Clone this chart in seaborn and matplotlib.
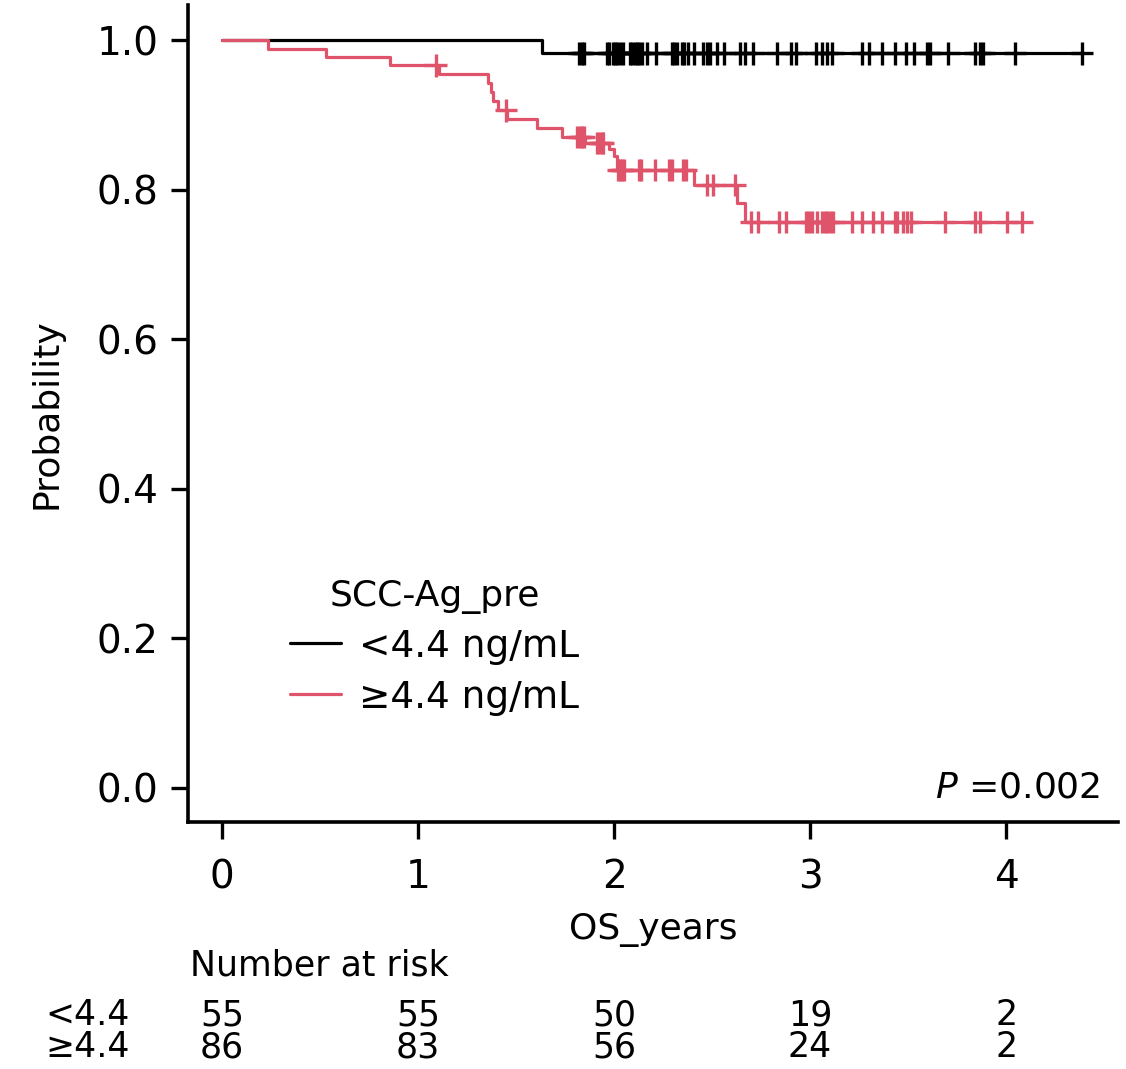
import numpy as np
import pandas as pd
import seaborn as sns
import matplotlib.pyplot as plt

# Kaplan-Meier curves (step times / survival after step)
low_times = [0.0, 1.631]
low_surv = [1.0, 0.982]
low_end = 4.386
low_censor = [1.823, 1.835, 1.847, 1.966, 1.976, 1.993, 2.005, 2.017, 2.031, 2.044,
              2.082, 2.093, 2.107, 2.119, 2.129, 2.141, 2.170, 2.214, 2.294, 2.308,
              2.320, 2.348, 2.359, 2.379, 2.408, 2.456, 2.473, 2.490, 2.524, 2.563,
              2.643, 2.668, 2.711, 2.830, 2.903, 2.927, 3.029, 3.060, 3.085, 3.114,
              3.267, 3.301, 3.366, 3.434, 3.490, 3.532, 3.598, 3.612, 3.706, 3.842,
              3.867, 3.884, 4.046, 4.386]

high_times = [0.0, 0.236, 0.529, 0.857, 1.107, 1.359, 1.371, 1.384, 1.410, 1.456,
              1.609, 1.733, 1.852, 1.976, 2.000, 2.014, 2.408, 2.625, 2.670]
high_surv = [1.0, 0.988, 0.977, 0.966, 0.954, 0.942, 0.930, 0.918, 0.906, 0.894,
             0.882, 0.870, 0.862, 0.854, 0.845, 0.826, 0.806, 0.782, 0.757]
high_end = 4.080
high_censor = [1.090, 1.449, 1.813, 1.827, 1.838, 1.847, 1.915, 1.925, 1.937, 1.945,
               2.022, 2.031, 2.042, 2.052, 2.128, 2.138, 2.209, 2.282, 2.294, 2.354,
               2.367, 2.476, 2.507, 2.615, 2.699, 2.736, 2.843, 2.878, 2.980, 2.995,
               3.009, 3.037, 3.063, 3.077, 3.088, 3.102, 3.119, 3.216, 3.264, 3.320,
               3.366, 3.434, 3.445, 3.476, 3.493, 3.514, 3.689, 3.842, 3.867, 4.003,
               4.080]

groups = ["<4.4 ng/mL", "\u22654.4 ng/mL"]
colors = ["black", "#DF536B"]
risk_labels = ["<4.4", "\u22654.4"]
risk_times = [0, 1, 2, 3, 4]
risk_low = [55, 55, 50, 19, 2]
risk_high = [86, 83, 56, 24, 2]

sns.set_theme(style="ticks")
plt.rcParams["font.family"] = ["DejaVu Sans"]
plt.rcParams.update({"text.color": "black", "axes.labelcolor": "black",
                     "xtick.color": "black", "ytick.color": "black"})
fs = 26


def km_frame(times, surv, end, censor, label):
    t = list(times) + [end]
    s = list(surv) + [surv[-1]]
    curve = pd.DataFrame({"time": t, "surv": s, "group": label})
    idx = np.searchsorted(times, censor, side="right") - 1
    marks = pd.DataFrame({"time": censor, "surv": np.array(surv)[idx], "group": label})
    return curve, marks


c1, m1 = km_frame(low_times, low_surv, low_end, low_censor, groups[0])
c2, m2 = km_frame(high_times, high_surv, high_end, high_censor, groups[1])
curves = pd.concat([c1, c2])
marks = pd.concat([m1, m2])
pal = dict(zip(groups, colors))

fig = plt.figure(figsize=(11.26, 10.69), dpi=100)
ax = fig.add_axes([188 / 1126, 1 - 822 / 1069, 930 / 1126, 817 / 1069])

sns.lineplot(data=curves, x="time", y="surv", hue="group", palette=pal,
             drawstyle="steps-post", linewidth=2.3, ax=ax, legend=False,
             estimator=None, sort=False)
sns.scatterplot(data=marks, x="time", y="surv", hue="group", palette=pal,
                marker="+", s=260, linewidth=2.4, ax=ax, legend=False)

ax.set_xlim(-0.1735, 4.571)
ax.set_ylim(-0.0455, 1.0468)
ax.set_xticks(risk_times)
ax.set_yticks([0.0, 0.2, 0.4, 0.6, 0.8, 1.0])
ax.set_yticklabels(["0.0", "0.2", "0.4", "0.6", "0.8", "1.0"])
ax.tick_params(labelsize=28, width=2.4, length=12)
ax.tick_params(axis="y", pad=9)
ax.tick_params(axis="x", pad=14)
ax.set_xlabel("OS_years", fontsize=fs, labelpad=12)
ax.set_ylabel("Probability", fontsize=fs, labelpad=24)
for sp in ["left", "bottom"]:
    ax.spines[sp].set_linewidth(2.6)
    ax.spines[sp].set_color("black")
sns.despine(ax=ax)

handles = [plt.Line2D([], [], color=c, lw=2.3) for c in colors]
leg = ax.legend(handles, groups, title="SCC-Ag_pre", loc="upper left",
                bbox_to_anchor=(0.1097, 0.298), frameon=False, fontsize=27,
                title_fontsize=fs, handlelength=1.35, handletextpad=0.5,
                labelspacing=0.4, borderpad=0, borderaxespad=0)

ax.text((1100 - 188) / 930, 0.022, "$\\it{P}$ =0.002",
        transform=ax.transAxes, ha="right", va="bottom", fontsize=fs)

fig.text(190 / 1126, 1 - 965 / 1069, "Number at risk", fontsize=fs - 1, va="center")
row_px = [1015, 1047]
for py, lab, vals in zip(row_px, risk_labels, [risk_low, risk_high]):
    fig.text(45 / 1126, 1 - py / 1069, lab, fontsize=fs - 1, va="center")
    for t, v in zip(risk_times, vals):
        ax.text(t, -(py - 822) / 817, str(v), fontsize=fs - 1, ha="center",
                va="center", transform=ax.get_xaxis_transform())

fig.savefig("out.png", dpi=100)
